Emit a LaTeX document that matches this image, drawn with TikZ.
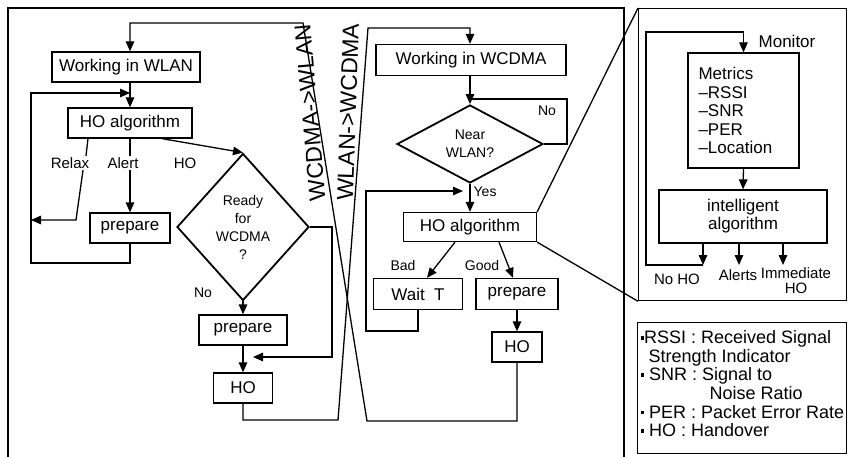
\documentclass[tikz,border=0pt]{standalone}
\usepackage{fontspec}
\setmainfont{Liberation Sans}
\usepackage{tikz}
\usetikzlibrary{arrows.meta,positioning,shapes.geometric}

\newcommand{\sqbul}{\rule[0.22em]{3.5pt}{3.5pt}}

\begin{document}
\begin{tikzpicture}[
  x=1pt, y=-1pt,
  line width=1.3pt,
  box/.style={draw, minimum height=30pt, inner sep=2pt,
              font=\fontsize{17}{19}\selectfont},
  dec/.style={draw, diamond, inner sep=0pt, line width=1.8pt, align=center,
              font=\fontsize{14}{18}\selectfont},
  lab/.style={inner sep=1pt, font=\fontsize{15}{15}\selectfont},
  small/.style={inner sep=1pt, font=\fontsize{14}{16}\selectfont},
  sidelab/.style={inner sep=0pt, font=\fontsize{23}{25}\selectfont},
  panel/.style={draw, anchor=north west, inner sep=0pt},
  arr/.style={-{Triangle[length=10pt,width=8.5pt]}}
]
\useasboundingbox (0,0) rectangle (848,457);
% frames
\draw (8,457) |- (624,8) -- (624,457);
\node[panel, minimum width=208pt, minimum height=292pt] (pan) at (638,8) {};
\node[panel, minimum width=209pt, minimum height=131pt] (leg) at (637,322) {};

% WLAN side
\node[box, minimum width=148pt] (wlan) at (126,67) {Working in WLAN};
\node[box, minimum width=124pt] (hoa) at (130,123) {HO algorithm};
\node[lab] (relax) at (70,163) {Relax};
\node[lab] (alert) at (123,163) {Alert};
\node[lab] (holab) at (185,163) {HO};
\node[box, minimum width=80pt] (prepa) at (130,228) {prepare};
\node[dec, minimum width=132pt, minimum height=147pt] (rdy) at (243,227) {Ready\\for\\WCDMA\\?};
\node[small] (noa) at (203,293) {No};
\node[box, minimum width=88pt] (prepb) at (243,330) {prepare};
\node[box, minimum width=59pt] (hoL) at (243,388) {HO};

% WCDMA side
\node[box, minimum width=190pt, minimum height=31pt] (wcd) at (471,60) {Working in WCDMA};
\node[dec, minimum width=146pt, minimum height=78pt, aspect=2] (near) at (470,144) {Near\\WLAN?};
\node[small] (nob) at (547,111) {No};
\node[small, anchor=west] (yes) at (472,192) {Yes};
\node[box, minimum width=133pt, minimum height=29pt] (hob) at (470,227) {HO algorithm};
\node[small] (bad) at (403,265) {Bad};
\node[small] (good) at (482,265) {Good};
\node[box, minimum width=89pt, minimum height=31pt] (wait) at (418,294) {Wait~~T};
\node[box, minimum width=82pt, minimum height=31pt] (prepc) at (517,294) {prepare};
\node[box, minimum width=50pt] (hoW) at (517,347) {HO};

% labels of the two switching paths
\node[sidelab, rotate=95] (toWlan) at (310,113) {WCDMA-{}>WLAN};
\node[sidelab, rotate=88] (toWcd) at (348,112) {WLAN-{}>WCDMA};

% monitor panel
\node[box, text width=90pt, inner xsep=10.5pt, minimum height=115pt, align=left,
      font=\fontsize{17}{18.5}\selectfont] (met) at (743.5,110.5)
      {Metrics\\--RSSI\\--SNR\\--PER\\--Location};
\node[box, minimum width=168pt, minimum height=53pt, align=center,
      font=\fontsize{17}{18}\selectfont] (intl) at (743,216.5) {intelligent\\algorithm};
\node[lab, anchor=west, font=\fontsize{17}{19}\selectfont] (mon) at (757,41) {Monitor};
\node[lab] (noho) at (677,279) {No HO};
\node[lab] (alts) at (738,275) {Alerts};
\node[lab, align=center] (imm) at (796,281) {Immediate\\HO};

% legend
\node[anchor=north west, align=left, inner sep=0pt,
      font=\fontsize{18}{18.6}\selectfont] (legt) at (640,330)
      {\sqbul RSSI : Received Signal\\
       \hspace*{8pt}Strength Indicator\\
       \sqbul\ SNR : Signal to\\
       \hspace*{69pt}Noise Ratio\\
       \sqbul\ PER : Packet Error Rate\\
       \sqbul\ HO : Handover};

% bend points
\coordinate (lpb) at (31,263);
\coordinate (lpt) at (31,93);
\coordinate (rx) at (76,220);
\coordinate (yj) at (253,357);
\coordinate (xa1) at (367,421);
\coordinate (xa2) at (303,23);
\coordinate (xb1) at (338,420);
\coordinate (xb2) at (368,28);
\coordinate (nl) at (470,99);
\coordinate (wl1) at (366,331);
\coordinate (wl2) at (463,191);
\coordinate (ml) at (646,32);
\coordinate (e1) at (703,265);
\coordinate (e2) at (739,265);
\coordinate (e3) at (783,265);

% WLAN flow
\draw[arr] (wlan.south -| hoa.north) -- (hoa.north);
\draw[arr] (prepa.south) |- (lpb) -- (lpt) -- (lpt -| hoa.north);
\draw ([xshift=-42pt]hoa.south) -- ([xshift=16pt]relax.north);
\draw[arr] ([xshift=13pt]relax.south) -- (rx) -- (rx -| lpb);
\draw (hoa.south) -- (hoa.south |- alert.north);
\draw[arr] (hoa.south |- alert.south) -- (prepa.north);
\draw[arr] ([xshift=32pt]hoa.south) -- (rdy.north);
\draw[arr] (rdy.south) -- (prepb.north);
\draw[arr] (rdy.east) -- ++(22,0) |- (yj);
\draw[arr] (prepb.south) -- (hoL.north);

% WCDMA flow
\draw[arr] (wcd.south -| near.north) -- (near.north);
\draw (near.east) -- ++(23,0) |- (nl);
\draw[arr] (near.south) -- (hob.north);
\draw[arr] ([xshift=-15pt]hob.south) -- ([xshift=9pt]wait.north);
\draw[arr] ([xshift=29pt]hob.south) -- ([xshift=-4pt]prepc.north);
\draw[arr] (wait.south) |- (wl1) |- (wl2);
\draw[arr] (prepc.south) -- (hoW.north);

% switching between networks
\draw[arr] (hoW.south) |- (xa1) -- (xa2) -| (wlan.north -| hoa.north);
\draw[arr] (hoL.south) |- (xb1) -- (xb2) -| (wcd.north -| near.north);

% zoom into the HO algorithm
\draw (hob.north east) -- (pan.north west);
\draw (hob.south east) -- (pan.south west);
\draw[arr] (intl.south -| e1) -- (e1);
\draw[arr] (intl.south -| e2) -- (e2);
\draw[arr] (intl.south -| e3) -- (e3);
\draw[arr] (e1) -| (ml) -- (ml -| met.north) -- (met.north);
\draw[arr] (met.south) -- (intl.north);
\end{tikzpicture}
\end{document}
